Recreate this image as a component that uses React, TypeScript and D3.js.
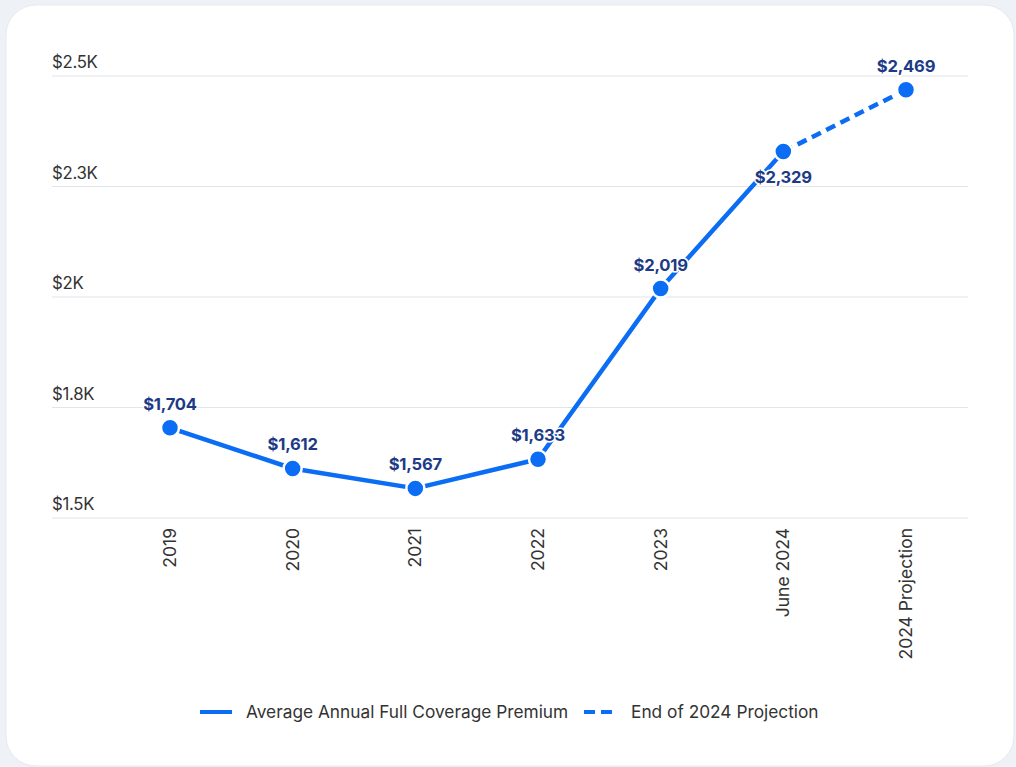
import React from "react";
import * as d3 from "d3";

const categories = ["2019", "2020", "2021", "2022", "2023", "June 2024", "2024 Projection"];
const premiumValues = [1704, 1612, 1567, 1633, 2019, 2329, null];
const projectionValues = [null, null, null, null, null, 2329, 2469];
const pointValues = [1704, 1612, 1567, 1633, 2019, 2329, 2469];
const labelBelow = [false, false, false, false, false, true, false];
const yTicks = [1500, 1750, 2000, 2250, 2500];
const yTickLabels = ["$1.5K", "$1.8K", "$2K", "$2.3K", "$2.5K"];
const legendItems = ["Average Annual Full Coverage Premium", "End of 2024 Projection"];

const W = 1016;
const H = 767;
const BLUE = "#0b6cf4";
const NAVY = "#1c3a86";
const FONT = "Inter, 'Noto Sans', sans-serif";

export default function App() {
  const x = d3.scalePoint<string>().domain(categories).range([170, 906]);
  const y = d3.scaleLinear().domain([1500, 2500]).range([518, 76]);

  const line = d3
    .line<number | null>()
    .defined((d) => d !== null)
    .x((_, i) => x(categories[i]) as number)
    .y((d) => y(d as number));

  const fmt = (v: number) => "$" + d3.format(",")(v);

  return (
    <svg
      width={W}
      height={H}
      style={{ position: "absolute", left: 0, top: 0, display: "block" }}
      fontFamily={FONT}
    >
      <rect x={0} y={0} width={W} height={H} fill="#eef1f5" />
      <rect x={6} y={5} width={1008} height={761} rx={30} ry={30} fill="#ffffff" stroke="#e6e9ee" />

      {yTicks.map((t, i) => (
        <g key={t}>
          <line x1={52} x2={968} y1={y(t)} y2={y(t)} stroke="#e1e4e9" strokeWidth={1.2} />
          <text x={52} y={y(t) - 8} fontSize={16.8} fill="#333333" letterSpacing={-0.3}>
            {yTickLabels[i]}
          </text>
        </g>
      ))}

      {categories.map((c) => (
        <text
          key={c}
          transform={`translate(${(x(c) as number) + 6},528) rotate(-90)`}
          textAnchor="end"
          fontSize={17.5}
          fill="#333333"
        >
          {c}
        </text>
      ))}

      <path d={line(premiumValues) || ""} fill="none" stroke={BLUE} strokeWidth={4.5} strokeLinejoin="round" />
      <path
        d={line(projectionValues) || ""}
        fill="none"
        stroke={BLUE}
        strokeWidth={4.5}
        strokeDasharray="10 6"
      />

      {pointValues.map((v, i) => (
        <circle
          key={i}
          cx={x(categories[i]) as number}
          cy={y(v)}
          r={9}
          fill={BLUE}
          stroke="#ffffff"
          strokeWidth={2.5}
        />
      ))}

      {pointValues.map((v, i) => (
        <text
          key={"l" + i}
          x={x(categories[i]) as number}
          y={labelBelow[i] ? y(v) + 31 : y(v) - 18}
          textAnchor="middle"
          fontSize={16.6}
          fontWeight={700}
          fill={NAVY}
          stroke="#ffffff"
          strokeWidth={3}
          paintOrder="stroke"
          letterSpacing={-0.2}
        >
          {fmt(v)}
        </text>
      ))}

      <g>
        <line x1={200} x2={232} y1={712} y2={712} stroke={BLUE} strokeWidth={4} />
        <text x={246} y={718} fontSize={17.3} fill="#333333">
          {legendItems[0]}
        </text>
        <line x1={584} x2={612} y1={712} y2={712} stroke={BLUE} strokeWidth={4} strokeDasharray="11 6" />
        <text x={631} y={718} fontSize={17.3} fill="#333333">
          {legendItems[1]}
        </text>
      </g>
    </svg>
  );
}
